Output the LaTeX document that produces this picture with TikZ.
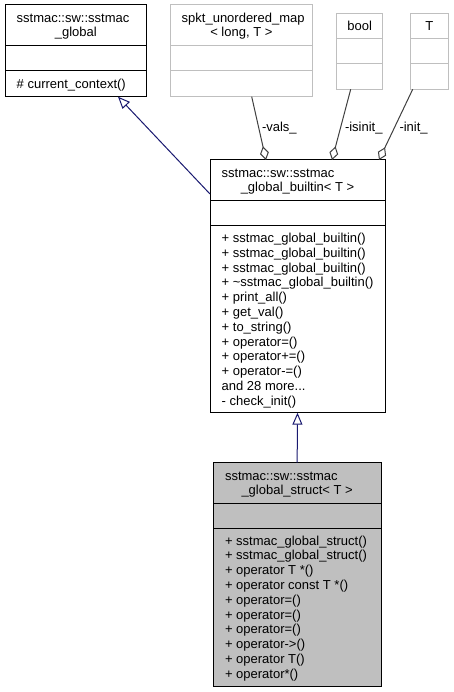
\documentclass[tikz,border=0pt]{standalone}
\usepackage{fontspec}
\setmainfont{Liberation Sans}
\usetikzlibrary{arrows.meta,calc}
\definecolor{edgeblue}{HTML}{191970}
\definecolor{aggcol}{HTML}{404040}
\definecolor{boxgray}{HTML}{BFBFBF}
\tikzset{
  cls/.style={draw=black, line width=1pt, rectangle, inner sep=0pt, outer sep=0pt, anchor=north west},
  clsgray/.style={cls, draw=boxgray},
  clsfill/.style={cls, fill=boxgray},
  txt/.style={inner sep=0pt, outer sep=0pt, anchor=base west},
  ctxt/.style={inner sep=0pt, outer sep=0pt, anchor=base},
  inh/.style={draw=edgeblue, line width=1pt, -{Triangle[open,length=12pt,width=10pt]}},
  aggr/.style={draw=aggcol, line width=1pt, -{Diamond[open,length=14pt,width=9pt]}},
}
\newcommand\moredots{.\kern0pt.\kern0pt.}
\begin{document}
\begin{tikzpicture}[x=1pt,y=-1pt,font=\fontsize{13pt}{14.8pt}\selectfont]
\useasboundingbox[fill=white] (0,0) rectangle (454,692);

% sstmac_global
\node[cls, minimum width=141.7pt, minimum height=91.7pt] (g) at (5,5) {};
\draw[line width=1pt] ($(g.north west)+(0,40.7)$) -- ($(g.north east)+(0,40.7)$);
\draw[line width=1pt] ($(g.north west)+(0,66)$) -- ($(g.north east)+(0,66)$);
\node[txt] (g-t1) at ($(g.north west)+(11.7,18)$) {sstmac::sw::sstmac};
\node[ctxt] (g-t2) at ($(g.north)+(0,32)$) {\_global};
\node[txt] (g-m1) at ($(g.north west)+(11.7,83.2)$) {\# current\_context()};

% spkt_unordered_map
\node[clsgray, minimum width=142.7pt, minimum height=91.7pt] (sp) at (170,5) {};
\draw[line width=1pt, boxgray] ($(sp.north west)+(0,40.7)$) -- ($(sp.north east)+(0,40.7)$);
\draw[line width=1pt, boxgray] ($(sp.north west)+(0,66)$) -- ($(sp.north east)+(0,66)$);
\node[txt] (sp-t1) at ($(sp.north west)+(11.7,18)$) {spkt\_unordered\_map};
\node[ctxt] (sp-t2) at ($(sp.north)+(0,32)$) {< long, T >};

% bool
\node[clsgray, minimum width=46pt, minimum height=76pt] (bo) at (336.7,13.3) {};
\draw[line width=1pt, boxgray] ($(bo.north west)+(0,25)$) -- ($(bo.north east)+(0,25)$);
\draw[line width=1pt, boxgray] ($(bo.north west)+(0,50)$) -- ($(bo.north east)+(0,50)$);
\node[ctxt] (bo-t) at ($(bo.north)+(0,17.1)$) {bool};

% T
\node[clsgray, minimum width=38.7pt, minimum height=76pt] (tt) at (410,13.3) {};
\draw[line width=1pt, boxgray] ($(tt.north west)+(0,25)$) -- ($(tt.north east)+(0,25)$);
\draw[line width=1pt, boxgray] ($(tt.north west)+(0,50)$) -- ($(tt.north east)+(0,50)$);
\node[ctxt] (tt-t) at ($(tt.north)+(0,17.1)$) {T};

% sstmac_global_builtin
\node[cls, minimum width=175pt, minimum height=252.7pt] (bi) at (210,160) {};
\draw[line width=1pt] ($(bi.north west)+(0,40.7)$) -- ($(bi.north east)+(0,40.7)$);
\draw[line width=1pt] ($(bi.north west)+(0,66)$) -- ($(bi.north east)+(0,66)$);
\node[txt] (bi-t1) at ($(bi.north west)+(11.7,18)$) {sstmac::sw::sstmac};
\node[ctxt] (bi-t2) at ($(bi.north)+(0,32)$) {\_global\_builtin< T >};
\foreach [count=\i] \t in {
  {+ sstmac\_global\_builtin()},
  {+ sstmac\_global\_builtin()},
  {+ sstmac\_global\_builtin()},
  {+ \textasciitilde sstmac\_global\_builtin()},
  {+ print\_all()},
  {+ get\_val()},
  {+ to\_string()},
  {+ operator=()},
  {+ operator+=()},
  {+ operator-=()},
  {and 28 more\moredots},
  {- check\_init()}}
  \node[txt] (bi-m\i) at ($(bi.north west)+(11.7,{82.5+(\i-1)*14.8})$) {\t};

% sstmac_global_struct
\node[clsfill, minimum width=167.7pt, minimum height=223.3pt] (st) at (213.3,462.7) {};
\draw[line width=1pt] ($(st.north west)+(0,40.6)$) -- ($(st.north east)+(0,40.6)$);
\draw[line width=1pt] ($(st.north west)+(0,65.6)$) -- ($(st.north east)+(0,65.6)$);
\node[txt] (st-t1) at ($(st.north west)+(11.7,18)$) {sstmac::sw::sstmac};
\node[ctxt] (st-t2) at ($(st.north)+(0,32)$) {\_global\_struct< T >};
\foreach [count=\i] \t in {
  {+ sstmac\_global\_struct()},
  {+ sstmac\_global\_struct()},
  {+ operator T *()},
  {+ operator const T *()},
  {+ operator=()},
  {+ operator=()},
  {+ operator=()},
  {+ operator->()},
  {+ operator T()},
  {+ operator*()}}
  \node[txt] (st-m\i) at ($(st.north west)+(11.7,{82.4+(\i-1)*14.8})$) {\t};

% inheritance
\draw[inh] (st.north) -- (bi.south);
\draw[inh] ($(bi.north west)+(0,34)$) -- ($(g.south west)+(113,0)$);

% aggregation
\draw[aggr] ($(sp.south west)+(81.7,0)$) -- ($(bi.north west)+(56,0)$);
\draw[aggr] ($(bo.south west)+(14,0)$) -- ($(bi.north west)+(122,0)$);
\draw[aggr] ($(tt.south west)+(2.7,0)$) -- ($(bi.north west)+(169,0)$);
\node[txt] (l-vals) at (262,132) {-vals\_};
\node[txt] (l-isinit) at (345,132) {-isinit\_};
\node[txt] (l-init) at (399.5,132) {-init\_};
\end{tikzpicture}
\end{document}
